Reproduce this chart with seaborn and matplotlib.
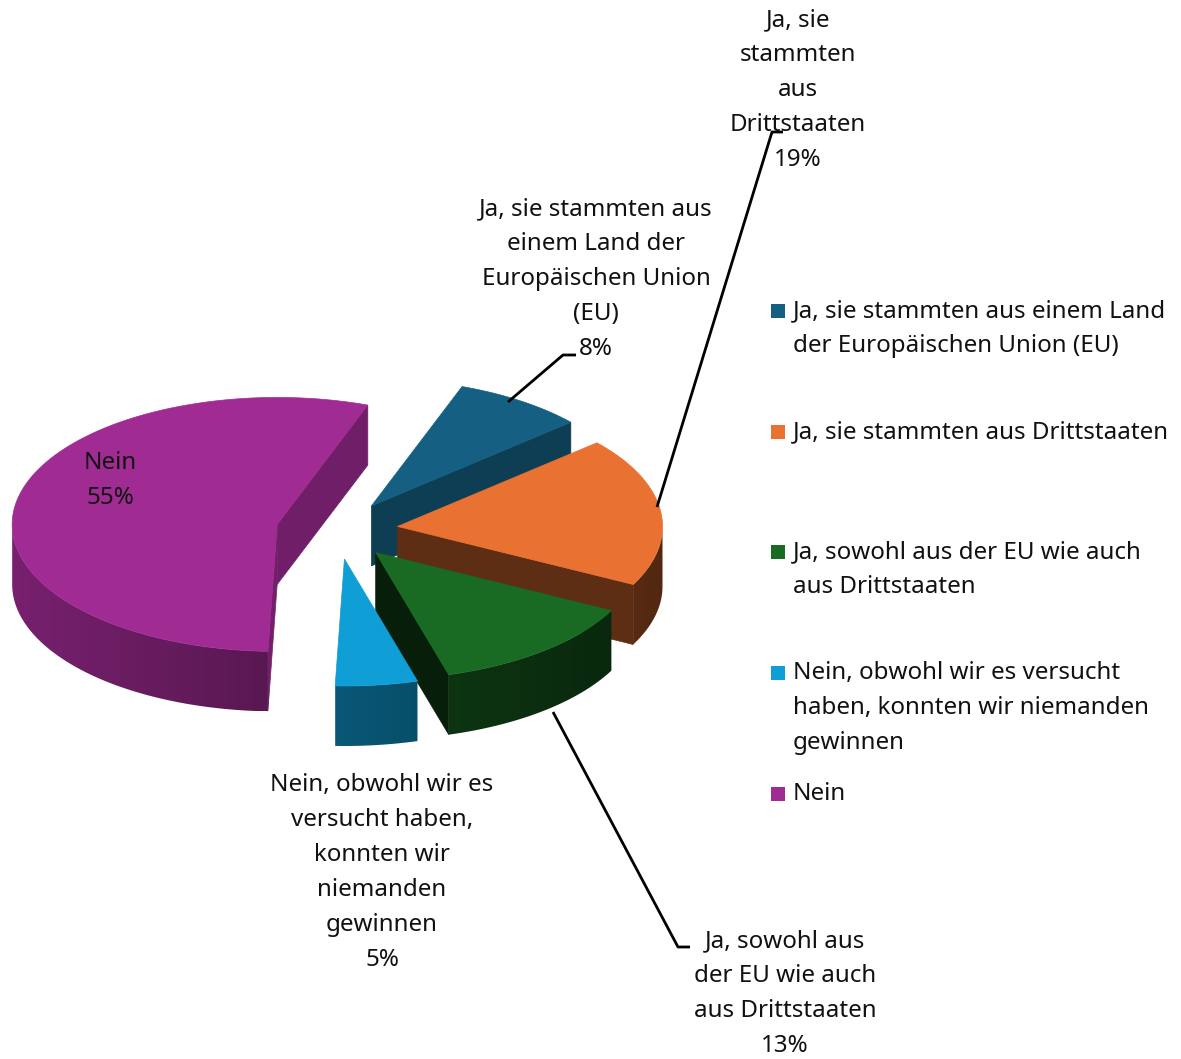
import numpy as np
import matplotlib
matplotlib.use("Agg")
import matplotlib.pyplot as plt
import matplotlib.colors as mcolors
from matplotlib.patches import Polygon, Rectangle
import seaborn as sns

# ---------------- data ----------------
categories = [
    "Ja, sie stammten aus einem Land der Europäischen Union (EU)",
    "Ja, sie stammten aus Drittstaaten",
    "Ja, sowohl aus der EU wie auch aus Drittstaaten",
    "Nein, obwohl wir es versucht haben, konnten wir niemanden gewinnen",
    "Nein",
]
values = [8, 19, 13, 5, 55]
colors = ["#156082", "#E97132", "#196B24", "#0F9ED5", "#A02B93"]
legend_lines = [
    ["Ja, sie stammten aus einem Land", "der Europäischen Union (EU)"],
    ["Ja, sie stammten aus Drittstaaten"],
    ["Ja, sowohl aus der EU wie auch", "aus Drittstaaten"],
    ["Nein, obwohl wir es versucht", "haben, konnten wir niemanden", "gewinnen"],
    ["Nein"],
]
label_lines = [
    ["Ja, sie stammten aus", "einem Land der", "Europäischen Union", "(EU)"],
    ["Ja, sie", "stammten", "aus", "Drittstaaten"],
    ["Ja, sowohl aus", "der EU wie auch", "aus Drittstaaten"],
    ["Nein, obwohl wir es", "versucht haben,", "konnten wir", "niemanden", "gewinnen"],
    ["Nein"],
]

# ---------------- style ----------------
sns.set_theme(style="white")
plt.rcParams["font.family"] = ["Noto Sans", "DejaVu Sans"]
FS = 17.4
LINE = 35

W, H = 1181, 1059
fig = plt.figure(figsize=(W / 100, H / 100), dpi=100)
ax = fig.add_axes([0, 0, 1, 1])
ax.set_xlim(0, W)
ax.set_ylim(H, 0)
ax.axis("off")

# ---------------- pseudo-3D exploded pie ----------------
cx, cy = 337, 530
rx, ry = 265, 127
depth = 60
explode = 0.23
start = 70.0


def shade(c, f):
    r, g, b = mcolors.to_rgb(c)
    return (min(r * f, 1), min(g * f, 1), min(b * f, 1))


total = float(sum(values))
slices = []
acc = 0.0
for v, col in zip(values, colors):
    hi = start - acc / total * 360
    lo = hi - v / total * 360
    acc += v
    m = np.radians((hi + lo) / 2)
    vx = cx + explode * rx * np.cos(m)
    vy = cy - explode * ry * np.sin(m)
    slices.append(dict(lo=lo, hi=hi, vx=vx, vy=vy, m=m, col=col))


def P(s, t_deg):
    t = np.radians(t_deg)
    return (s["vx"] + rx * np.cos(t), s["vy"] - ry * np.sin(t))


order = sorted(range(len(slices)), key=lambda i: -np.sin(slices[i]["m"]))
z = 1
for i in order:
    s = slices[i]
    V = (s["vx"], s["vy"])
    Vd = (s["vx"], s["vy"] + depth)
    # radial walls
    for a, n in ((s["hi"], s["hi"] + 90), (s["lo"], s["lo"] - 90)):
        if np.sin(np.radians(n)) < 0:
            pa = P(s, a)
            f = 0.5 + 0.22 * np.cos(np.radians(n))
            c = shade(s["col"], f)
            ax.add_patch(Polygon([V, pa, (pa[0], pa[1] + depth), Vd], closed=True,
                                 facecolor=c, edgecolor=c, lw=0.5, zorder=z))
            z += 1
    # outer wall (front half only) with a smooth horizontal gradient
    ts = np.linspace(s["lo"], s["hi"], 400)
    vis = ts[np.sin(np.radians(ts)) < 0]
    if len(vis) > 1:
        top = [P(s, t) for t in vis]
        bot = [(x, y + depth) for x, y in top[::-1]]
        poly = Polygon(top + bot, closed=True, facecolor="none", edgecolor="none", zorder=z)
        ax.add_patch(poly)
        xs = [p[0] for p in top]
        ys = [p[1] for p in top]
        x0, x1 = min(xs), max(xs)
        y0, y1 = min(ys), max(ys) + depth
        gx = np.linspace(x0, x1, 300)
        fac = 0.55 - 0.2 * (gx - s["vx"]) / rx
        img = np.array([[shade(s["col"], f) for f in fac]])
        im = ax.imshow(img, extent=(x0, x1, y1, y0), aspect="auto",
                       interpolation="bilinear", zorder=z)
        im.set_clip_path(poly)
        mid = shade(s["col"], 0.55 - 0.2 * ((x0 + x1) / 2 - s["vx"]) / rx)
        z += 1
    # top
    arc = [P(s, t) for t in np.linspace(s["lo"], s["hi"], 240)]
    ax.add_patch(Polygon([V] + arc, closed=True, facecolor=s["col"],
                         edgecolor=s["col"], lw=0.5, zorder=z))
    z += 1

ax.set_xlim(0, W)
ax.set_ylim(H, 0)

# ---------------- data labels ----------------
label_pos = [(596, 209), (798, 20), (785, 941), (382, 785), (110, 463)]
for lines, v, (x, y0) in zip(label_lines, values, label_pos):
    for k, t in enumerate(lines + [f"{v}%"]):
        ax.text(x, y0 + k * LINE, t, ha="center", va="center", fontsize=FS,
                color="#111111", zorder=50)

leaders = [
    [(508, 402), (563, 355), (576, 355)],
    [(657, 507), (772, 132), (783, 132)],
    [(553, 712), (678, 947), (690, 947)],
]
for pts in leaders:
    xs, ys = zip(*pts)
    ax.plot(xs, ys, color="black", lw=2, zorder=40, solid_capstyle="butt")

# ---------------- legend ----------------
leg_y = [311, 432, 552, 673, 794]
for lines, col, y0 in zip(legend_lines, colors, leg_y):
    ax.add_patch(Rectangle((771, y0 - 7), 14, 14, facecolor=col, edgecolor="none", zorder=60))
    for k, t in enumerate(lines):
        ax.text(793, y0 + k * LINE, t, ha="left", va="center", fontsize=FS,
                color="#111111", zorder=60)

fig.savefig("out.png", dpi=100, facecolor="white")
